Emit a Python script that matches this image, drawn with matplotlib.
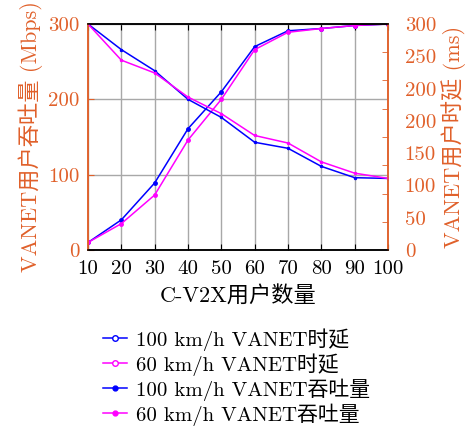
import numpy as np
import matplotlib
matplotlib.use("Agg")
import matplotlib.pyplot as plt

plt.rcParams['font.family'] = ['cmr10', 'Noto Sans CJK SC', 'DejaVu Sans']
plt.rcParams['mathtext.fontset'] = 'cm'
plt.rcParams['axes.unicode_minus'] = False

# data
users = [10, 20, 30, 40, 50, 60, 70, 80, 90, 100]
thr_100 = [10, 40, 89, 161, 210, 270, 291, 294, 298, 300]
thr_60 = [10, 35, 73, 146, 200, 266, 289, 294, 298, 300]
lat_100 = [300, 266, 238, 200, 176, 143, 135, 111, 96, 95]
lat_60 = [300, 252, 235, 203, 181, 152, 142, 117, 102, 95]

left_ticks = [0, 100, 200, 300]
right_labels = ['0', '50', '100', '150', '200', '200', '250', '300']

ORANGE = '#e0602a'
BLUE = '#0000ff'
MAG = '#ff00ff'
FS = 15

fig = plt.figure(figsize=(4.7, 4.26), dpi=100)
ax = fig.add_axes([88 / 470, 1 - 250 / 426, 300 / 470, 226 / 426])
ax2 = ax.twinx()

ax.plot(users, thr_100, '-', color=BLUE, lw=1.1, marker='o', ms=2.5)
ax.plot(users, thr_60, '-', color=MAG, lw=1.1, marker='o', ms=2.5)
ax2.plot(users, lat_100, '-', color=BLUE, lw=1.1, marker='o', ms=1.5)
ax2.plot(users, lat_60, '-', color=MAG, lw=1.1, marker='o', ms=1.5)

ax.set_xlim(10, 100)
ax.set_ylim(0, 300)
ax2.set_ylim(0, 300)
ax.set_xticks(users)
ax.set_yticks(left_ticks)
ax.grid(True, color='#a8a8a8', lw=1.0)
ax.set_axisbelow(True)

ax.tick_params(axis='x', direction='in', top=True, length=4, labelsize=FS, colors='black', pad=7)
ax.tick_params(axis='y', direction='in', length=4, labelsize=FS, colors=ORANGE, pad=6)

# right axis: 9 tick marks, 8 labels (as in the original)
ax2.set_yticks(np.linspace(0, 300, 8))
ax2.set_yticklabels(right_labels)
ax2.set_yticks(np.linspace(0, 300, 9), minor=True)
ax2.tick_params(axis='y', which='major', length=0, labelsize=FS, colors=ORANGE, pad=12)
ax2.tick_params(axis='y', which='minor', direction='in', length=4, colors=ORANGE)

for a in (ax, ax2):
    a.spines['left'].set_color(ORANGE)
    a.spines['right'].set_color(ORANGE)
    a.spines['top'].set_color('black')
    a.spines['bottom'].set_color('black')
    for s in a.spines.values():
        s.set_linewidth(1.1)

ax.set_xlabel('C-V2X用户数量', fontsize=FS + 1, labelpad=6)
ax.set_ylabel('VANET用户吞吐量 (Mbps)', fontsize=FS + 1, color=ORANGE, labelpad=4)
ax2.set_ylabel('VANET用户时延 (ms)', fontsize=FS + 1, color=ORANGE, labelpad=4)

handles = [
    plt.Line2D([], [], color=BLUE, lw=1.1, marker='o', ms=4, mfc='white'),
    plt.Line2D([], [], color=MAG, lw=1.1, marker='o', ms=4, mfc='white'),
    plt.Line2D([], [], color=BLUE, lw=1.1, marker='o', ms=3.5),
    plt.Line2D([], [], color=MAG, lw=1.1, marker='o', ms=3.5),
]
labels = ['100 km/h VANET时延', '60 km/h VANET时延',
          '100 km/h VANET吞吐量', '60 km/h VANET吞吐量']
fig.legend(handles, labels, loc='upper left', bbox_to_anchor=(103 / 470, 1 - 328 / 426),
           frameon=False, fontsize=FS, handlelength=1.15, handletextpad=0.45,
           labelspacing=0.12, borderpad=0, borderaxespad=0)

fig.savefig('out.png', dpi=100)
